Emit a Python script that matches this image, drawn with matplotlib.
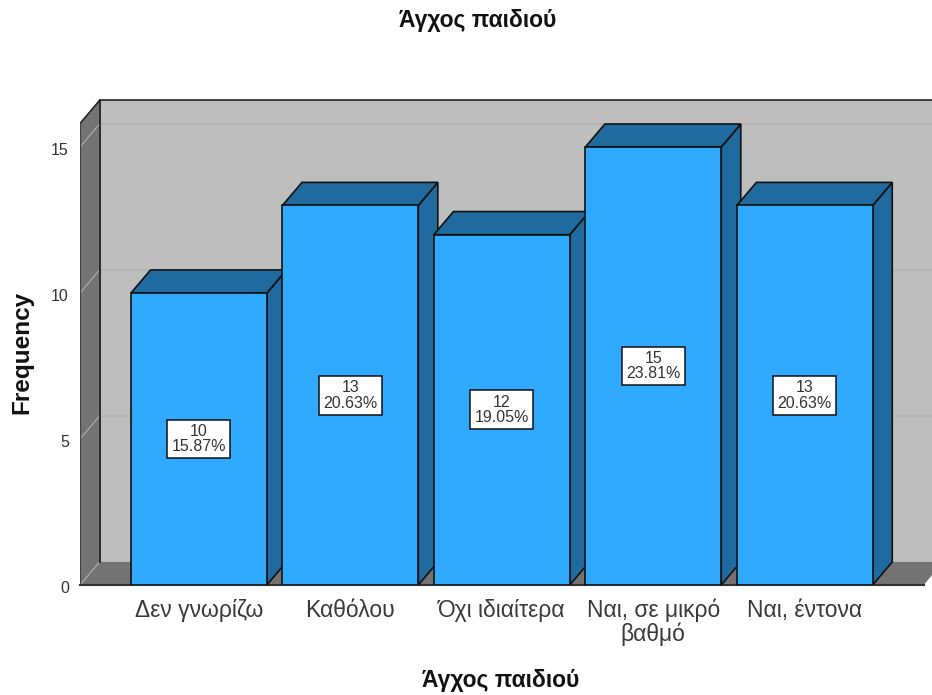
import matplotlib
matplotlib.use("Agg")
import matplotlib.pyplot as plt
from matplotlib.patches import Polygon
from matplotlib.transforms import ScaledTranslation

plt.rcParams['font.family'] = ['Liberation Sans', 'DejaVu Sans']

categories = ["Δεν γνωρίζω", "Καθόλου", "Όχι ιδιαίτερα", "Ναι, σε μικρό\nβαθμό", "Ναι, έντονα"]
counts = [10, 13, 12, 15, 13]
percents = ["15.87%", "20.63%", "19.05%", "23.81%", "20.63%"]
y_ticks = [0, 5, 10, 15]

# 3d look, offsets in data units
DX = 0.129
DY = 0.79
BAR_W = 0.897
WALL_TOP = 16.6
LEFT = -0.785
RIGHT = 4.84
FLOOR_END = 4.785

FRONT = "#2FAAFF"
SIDE = "#1F6B9F"
WALL = "#BEBEBE"
DARK = "#737373"
EDGE = "#111111"


def poly(ax, pts, color, edge=None, z=1):
    ax.add_patch(Polygon(pts, closed=True, facecolor=color,
                         edgecolor=edge if edge else color,
                         linewidth=1.2 if edge else 0, zorder=z))


def main():
    fig = plt.figure(figsize=(9.32, 6.95), dpi=100)
    ax = fig.add_axes([80 / 932, 110 / 695, 852 / 932, 487 / 695])
    ax.set_xlim(LEFT, RIGHT)
    ax.set_ylim(0, 16.68)
    for s in ax.spines.values():
        s.set_visible(False)

    # back wall, floor, left wall
    poly(ax, [(LEFT + DX, DY), (RIGHT + 1, DY), (RIGHT + 1, WALL_TOP), (LEFT + DX, WALL_TOP)], WALL)
    poly(ax, [(LEFT, 0), (FLOOR_END, 0), (FLOOR_END + DX, DY), (LEFT + DX, DY)], DARK, z=1.1)
    poly(ax, [(LEFT, 0), (LEFT + DX, DY), (LEFT + DX, WALL_TOP), (LEFT, WALL_TOP - DY)], DARK, z=1.1)

    for v in y_ticks[1:]:
        ax.plot([LEFT + DX, RIGHT], [v + DY, v + DY], color="#B0B0B0", lw=1.1, zorder=1.2)
    for v in y_ticks:
        ax.plot([LEFT, LEFT + DX], [v, v + DY], color="#ABABAB", lw=0.9, zorder=1.2)

    ax.plot([LEFT + DX, LEFT + DX], [DY, WALL_TOP], color=EDGE, lw=1.2, zorder=1.3)
    ax.plot([LEFT + DX, RIGHT], [WALL_TOP, WALL_TOP], color="#222222", lw=1.2, zorder=1.3)
    ax.plot([LEFT, LEFT + DX], [WALL_TOP - DY, WALL_TOP], color=EDGE, lw=1, zorder=1.3)
    ax.plot([LEFT, LEFT], [0, WALL_TOP - DY], color="#444444", lw=0.9, zorder=1.3)
    ax.plot([LEFT, FLOOR_END], [0, 0], color="#333333", lw=1.5, zorder=1.3, clip_on=False)

    for i, (c, p) in enumerate(zip(counts, percents)):
        x0 = i - BAR_W / 2
        x1 = i + BAR_W / 2
        z = 2 + i
        poly(ax, [(x1, 0), (x1 + DX, DY), (x1 + DX, c + DY), (x1, c)], SIDE, EDGE, z)
        poly(ax, [(x0, c), (x1, c), (x1 + DX, c + DY), (x0 + DX, c + DY)], SIDE, EDGE, z)
        ax.bar(i, c, width=BAR_W, color=FRONT, edgecolor=EDGE, linewidth=1.2, zorder=z + 0.1)
        ax.text(i, c / 2, f"{c}\n{p}", ha="center", va="center", fontsize=11.5,
                linespacing=1.05, color="#333333", zorder=20,
                bbox=dict(boxstyle="square,pad=0.26", facecolor="white", edgecolor=EDGE, linewidth=1.1))

    ax.set_xticks(range(len(categories)))
    ax.set_xticklabels(categories, fontsize=16.5, color="#3A3A3A", linespacing=1.0)
    ax.set_yticks(y_ticks)
    ax.tick_params(axis="x", length=0, pad=10)
    ax.tick_params(axis="y", length=0, pad=8, labelsize=11.5, labelcolor="#333333")
    shift = ScaledTranslation(0, -2 / 100, fig.dpi_scale_trans)
    for t in ax.get_yticklabels():
        t.set_transform(t.get_transform() + shift)

    ax.set_xlabel("Άγχος παιδιού", fontsize=16.5, fontweight="bold", color="#111111", va="center")
    ax.xaxis.set_label_coords(0.494, -0.196)
    ax.set_ylabel("Frequency", fontsize=17.5, fontweight="bold", color="#111111", va="center")
    ax.yaxis.set_label_coords(-0.068, 0.477)
    fig.text(478 / 932, 1 - 20 / 695, "Άγχος παιδιού", ha="center", va="center",
             fontsize=16.5, fontweight="bold", color="#111111")

    fig.savefig("out.png", dpi=100)


if __name__ == '__main__':
    main()
